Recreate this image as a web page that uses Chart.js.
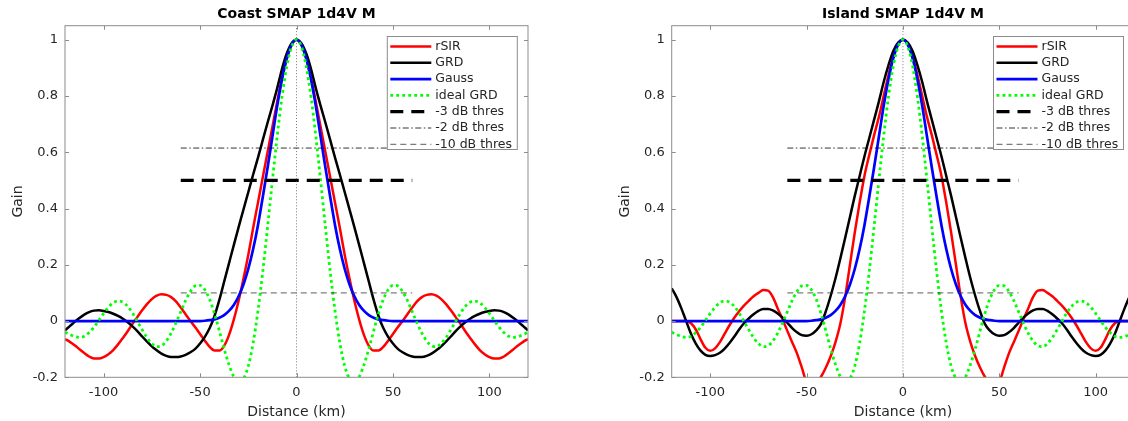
<!DOCTYPE html>
<html>
<head>
<meta charset="utf-8">
<script src="https://cdn.jsdelivr.net/npm/chart.js@4"></script>
<style>
html, body { margin: 0; padding: 0; background: #fff; overflow: hidden; }
#wrap { position: relative; width: 1128px; height: 421px; overflow: hidden; }
#coast { position: absolute; left: 0; top: 0; }
#island { position: absolute; left: 560px; top: 0; }
</style>
</head>
<body>
<div id="wrap">
  <canvas id="coast" width="560" height="421"></canvas>
  <canvas id="island" width="600" height="421"></canvas>
</div>
<script>
// distance axis (km), one sample every 2.5 km
const distance = [
  -120, -117.5, -115, -112.5, -110, -107.5, -105, -102.5,
  -100, -97.5, -95, -92.5, -90, -87.5, -85, -82.5,
  -80, -77.5, -75, -72.5, -70, -67.5, -65, -62.5,
  -60, -57.5, -55, -52.5, -50, -47.5, -45, -42.5,
  -40, -37.5, -35, -32.5, -30, -27.5, -25, -22.5,
  -20, -17.5, -15, -12.5, -10, -7.5, -5, -2.5,
  0,
  2.5, 5, 7.5, 10, 12.5, 15, 17.5, 20,
  22.5, 25, 27.5, 30, 32.5, 35, 37.5, 40,
  42.5, 45, 47.5, 50, 52.5, 55, 57.5, 60,
  62.5, 65, 67.5, 70, 72.5, 75, 77.5, 80,
  82.5, 85, 87.5, 90, 92.5, 95, 97.5, 100,
  102.5, 105, 107.5, 110, 112.5, 115, 117.5, 120
];

// Coast panel
const coastRsir = [
  -0.064, -0.074, -0.086, -0.1, -0.114, -0.126, -0.133, -0.133,
  -0.128, -0.118, -0.103, -0.083, -0.06, -0.036, -0.01, 0.014,
  0.038, 0.06, 0.078, 0.09, 0.095, 0.093, 0.085, 0.07,
  0.048, 0.024, 0, -0.022, -0.046, -0.07, -0.092, -0.105,
  -0.105, -0.088, -0.05, 0.005, 0.072, 0.15, 0.235, 0.33,
  0.42, 0.51, 0.6, 0.69, 0.78, 0.865, 0.935, 0.982,
  1,
  0.982, 0.935, 0.865, 0.78, 0.69, 0.6, 0.51, 0.42,
  0.33, 0.235, 0.15, 0.072, 0.005, -0.05, -0.088, -0.105,
  -0.105, -0.092, -0.07, -0.046, -0.022, 0, 0.024, 0.048,
  0.07, 0.085, 0.093, 0.095, 0.09, 0.078, 0.06, 0.038,
  0.014, -0.01, -0.036, -0.06, -0.083, -0.103, -0.118, -0.128,
  -0.133, -0.133, -0.126, -0.114, -0.1, -0.086, -0.074, -0.064
];
const coastGrd = [
  -0.033, -0.018, -0.003, 0.011, 0.023, 0.032, 0.037, 0.038,
  0.036, 0.032, 0.026, 0.018, 0.008, -0.004, -0.019, -0.036,
  -0.055, -0.073, -0.09, -0.104, -0.116, -0.124, -0.128, -0.128,
  -0.126, -0.12, -0.111, -0.099, -0.08, -0.056, -0.025, 0.018,
  0.075, 0.14, 0.205, 0.27, 0.334, 0.396, 0.458, 0.52,
  0.58, 0.643, 0.705, 0.765, 0.828, 0.897, 0.952, 0.988,
  1,
  0.988, 0.952, 0.897, 0.828, 0.765, 0.705, 0.643, 0.58,
  0.52, 0.458, 0.396, 0.334, 0.27, 0.205, 0.14, 0.075,
  0.018, -0.025, -0.056, -0.08, -0.099, -0.111, -0.12, -0.126,
  -0.128, -0.128, -0.124, -0.116, -0.104, -0.09, -0.073, -0.055,
  -0.036, -0.019, -0.004, 0.008, 0.018, 0.026, 0.032, 0.036,
  0.038, 0.037, 0.032, 0.023, 0.011, -0.003, -0.018, -0.033
];

// Island panel
const islandRsir = [
  0, 0, 0, 0, -0.008, -0.03, -0.065, -0.095,
  -0.106, -0.097, -0.075, -0.045, -0.015, 0.012, 0.035, 0.055,
  0.072, 0.088, 0.1, 0.11, 0.108, 0.085, 0.045, 0.006,
  -0.035, -0.075, -0.115, -0.165, -0.218, -0.23, -0.222, -0.198,
  -0.165, -0.125, -0.075, -0.01, 0.085, 0.2, 0.315, 0.42,
  0.515, 0.59, 0.66, 0.725, 0.8, 0.875, 0.94, 0.985,
  1,
  0.985, 0.94, 0.875, 0.8, 0.725, 0.66, 0.59, 0.515,
  0.42, 0.315, 0.2, 0.085, -0.01, -0.075, -0.125, -0.165,
  -0.198, -0.222, -0.23, -0.218, -0.165, -0.115, -0.075, -0.035,
  0.006, 0.045, 0.085, 0.108, 0.11, 0.1, 0.088, 0.072,
  0.055, 0.035, 0.012, -0.015, -0.045, -0.075, -0.097, -0.106,
  -0.095, -0.065, -0.03, -0.008, 0, 0, 0, 0
];
const islandGrd = [
  0.116, 0.085, 0.045, 0, -0.045, -0.08, -0.105, -0.12,
  -0.124, -0.121, -0.113, -0.098, -0.078, -0.055, -0.03, -0.008,
  0.009, 0.024, 0.036, 0.043, 0.043, 0.038, 0.027, 0.012,
  -0.006, -0.025, -0.04, -0.05, -0.052, -0.047, -0.033, -0.01,
  0.035, 0.09, 0.152, 0.222, 0.295, 0.37, 0.445, 0.515,
  0.585, 0.65, 0.715, 0.78, 0.85, 0.91, 0.96, 0.99,
  1,
  0.99, 0.96, 0.91, 0.85, 0.78, 0.715, 0.65, 0.585,
  0.515, 0.445, 0.37, 0.295, 0.222, 0.152, 0.09, 0.035,
  -0.01, -0.033, -0.047, -0.052, -0.05, -0.04, -0.025, -0.006,
  0.012, 0.027, 0.038, 0.043, 0.043, 0.036, 0.024, 0.009,
  -0.008, -0.03, -0.055, -0.078, -0.098, -0.113, -0.121, -0.124,
  -0.12, -0.105, -0.08, -0.045, 0, 0.045, 0.085, 0.116
];

// same in both panels
const gauss = [
  0, 0, 0, 0, 0, 0, 0, 0,
  0, 0, 0, 0, 0, 0, 0, 0,
  0, 0, 0, 0, 0, 0, 0, 0,
  0, 0, 0, 0, 0, 0.001, 0.003, 0.006,
  0.012, 0.021, 0.036, 0.057, 0.088, 0.13, 0.185, 0.255,
  0.34, 0.44, 0.545, 0.655, 0.765, 0.86, 0.935, 0.983,
  1,
  0.983, 0.935, 0.86, 0.765, 0.655, 0.545, 0.44, 0.34,
  0.255, 0.185, 0.13, 0.088, 0.057, 0.036, 0.021, 0.012,
  0.006, 0.003, 0.001, 0, 0, 0, 0, 0,
  0, 0, 0, 0, 0, 0, 0, 0,
  0, 0, 0, 0, 0, 0, 0, 0,
  0, 0, 0, 0, 0, 0, 0, 0
];
const idealGrd = [
  -0.04, -0.048, -0.055, -0.058, -0.054, -0.041, -0.022, 0.002,
  0.027, 0.049, 0.065, 0.071, 0.067, 0.052, 0.028, -0.001,
  -0.031, -0.059, -0.08, -0.091, -0.088, -0.071, -0.043, -0.007,
  0.033, 0.073, 0.105, 0.125, 0.127, 0.111, 0.077, 0.026,
  -0.035, -0.099, -0.155, -0.198, -0.217, -0.205, -0.16, -0.079,
  0.035, 0.175, 0.334, 0.499, 0.658, 0.798, 0.907, 0.976,
  1,
  0.976, 0.907, 0.798, 0.658, 0.499, 0.334, 0.175, 0.035,
  -0.079, -0.16, -0.205, -0.217, -0.198, -0.155, -0.099, -0.035,
  0.026, 0.077, 0.111, 0.127, 0.125, 0.105, 0.073, 0.033,
  -0.007, -0.043, -0.071, -0.088, -0.091, -0.08, -0.059, -0.031,
  -0.001, 0.028, 0.052, 0.067, 0.071, 0.065, 0.049, 0.027,
  0.002, -0.022, -0.041, -0.054, -0.058, -0.055, -0.048, -0.04
];

// threshold lines
const thresX = [-60, 60];
const thres3dB = [0.5, 0.5];
const thres2dB = [0.615, 0.615];
const thres10dB = [0.1, 0.1];
const centerX = [0, 0];
const centerY = [-0.2, 1.05];

const xTicks = [-100, -50, 0, 50, 100];
const yTicks = [-0.2, 0, 0.2, 0.4, 0.6, 0.8, 1];

Chart.defaults.font.family = 'DejaVu Sans';

function series(label, xs, ys, color, width, dash, order) {
  return {
    label: label,
    data: xs.map((v, i) => ({x: v, y: ys[i]})),
    borderColor: color,
    borderWidth: width,
    borderDash: dash,
    borderCapStyle: 'butt',
    pointRadius: 0,
    fill: false,
    cubicInterpolationMode: 'monotone',
    order: order
  };
}

// box, inward ticks and the legend inside the axes
const axesBox = {
  id: 'axesBox',
  afterDatasetsDraw(chart) {
    const ctx = chart.ctx;
    const a = chart.chartArea;
    const x = chart.scales.x, y = chart.scales.y;
    ctx.save();
    ctx.strokeStyle = '#8c8c8c';
    ctx.lineWidth = 1;
    ctx.setLineDash([]);
    ctx.strokeRect(a.left, a.top, a.right - a.left, a.bottom - a.top);
    ctx.beginPath();
    xTicks.forEach(v => {
      const px = Math.round(x.getPixelForValue(v)) + 0.5;
      ctx.moveTo(px, a.bottom); ctx.lineTo(px, a.bottom - 4);
      ctx.moveTo(px, a.top); ctx.lineTo(px, a.top + 4);
    });
    yTicks.forEach(v => {
      const py = Math.round(y.getPixelForValue(v)) + 0.5;
      ctx.moveTo(a.left, py); ctx.lineTo(a.left + 4, py);
      ctx.moveTo(a.right, py); ctx.lineTo(a.right - 4, py);
    });
    ctx.stroke();

    // legend
    const items = chart.data.datasets.filter(d => d.label);
    const w = 130, h = 113;
    const lx = a.right - 10.7 - w;
    const ly = a.top + 10.8;
    ctx.fillStyle = '#fff';
    ctx.fillRect(lx, ly, w, h);
    ctx.strokeStyle = '#8c8c8c';
    ctx.lineWidth = 1;
    ctx.strokeRect(lx, ly, w, h);
    ctx.font = '12.5px "DejaVu Sans"';
    ctx.textBaseline = 'middle';
    ctx.textAlign = 'left';
    items.forEach((d, i) => {
      const cy = ly + 10 + i * 16.3;
      ctx.beginPath();
      ctx.strokeStyle = d.borderColor;
      ctx.lineWidth = d.borderWidth;
      ctx.setLineDash(d.borderDash || []);
      ctx.lineCap = 'butt';
      ctx.moveTo(lx + 3, cy);
      ctx.lineTo(lx + 44, cy);
      ctx.stroke();
      ctx.setLineDash([]);
      ctx.fillStyle = '#262626';
      ctx.fillText(d.label, lx + 48, cy);
    });
    ctx.restore();
  }
};

function makeChart(id, title, rsir, grd, padLeft, padRight) {
  return new Chart(document.getElementById(id), {
    type: 'line',
    data: {
      datasets: [
        series('rSIR', distance, rsir, '#ff0000', 2.5, [], 9),
        series('GRD', distance, grd, '#000000', 2.5, [], 8),
        series('Gauss', distance, gauss, '#0000ff', 2.7, [], 7),
        series('ideal GRD', distance, idealGrd, '#00ff00', 2.8, [2.8, 3.2], 6),
        series('-3 dB thres', thresX, thres3dB, '#000000', 3.3, [13, 8], 5),
        series('-2 dB thres', thresX, thres2dB, '#000000', 0.8, [6, 2.5, 1.5, 2.5], 4),
        series('-10 dB thres', thresX, thres10dB, '#333333', 0.8, [6, 4], 3),
        series('', centerX, centerY, '#555555', 0.8, [1, 2], 2)
      ]
    },
    options: {
      responsive: false,
      animation: false,
      devicePixelRatio: 1,
      layout: { padding: { left: padLeft, right: padRight, top: 0, bottom: 0 } },
      plugins: {
        legend: { display: false },
        tooltip: { enabled: false },
        title: {
          display: true,
          text: title,
          fullSize: false,
          color: '#000',
          font: { size: 14, weight: 'bold' },
          padding: { top: 5.5, bottom: 3.4 }
        }
      },
      scales: {
        x: {
          type: 'linear',
          min: -120,
          max: 120,
          afterFit: s => { s.height = 43.7; },
          afterBuildTicks: s => { s.ticks = xTicks.map(v => ({value: v})); },
          grid: { display: false, drawTicks: false },
          border: { display: false },
          ticks: { color: '#262626', font: { size: 13 }, padding: 8, maxRotation: 0, autoSkip: false },
          title: { display: true, text: 'Distance (km)', color: '#262626', font: { size: 14 }, padding: { top: 1.9, bottom: 0 } }
        },
        y: {
          type: 'linear',
          min: -0.2,
          max: 1.05,
          afterFit: s => { s.width = 65; },
          afterBuildTicks: s => { s.ticks = yTicks.map(v => ({value: v})); },
          grid: { display: false, drawTicks: false },
          border: { display: false },
          ticks: { color: '#262626', font: { size: 13 }, padding: 7, autoSkip: false,
                   callback: v => String(+v.toFixed(1)) },
          title: { display: true, text: 'Gain', color: '#262626', font: { size: 14 }, padding: { top: 10, bottom: 0 } }
        }
      }
    },
    plugins: [axesBox]
  });
}

makeChart('coast', 'Coast SMAP 1d4V M', coastRsir, coastGrd, 0, 32);
makeChart('island', 'Island SMAP 1d4V M', islandRsir, islandGrd, 46.7, 25.8);
</script>
</body>
</html>
